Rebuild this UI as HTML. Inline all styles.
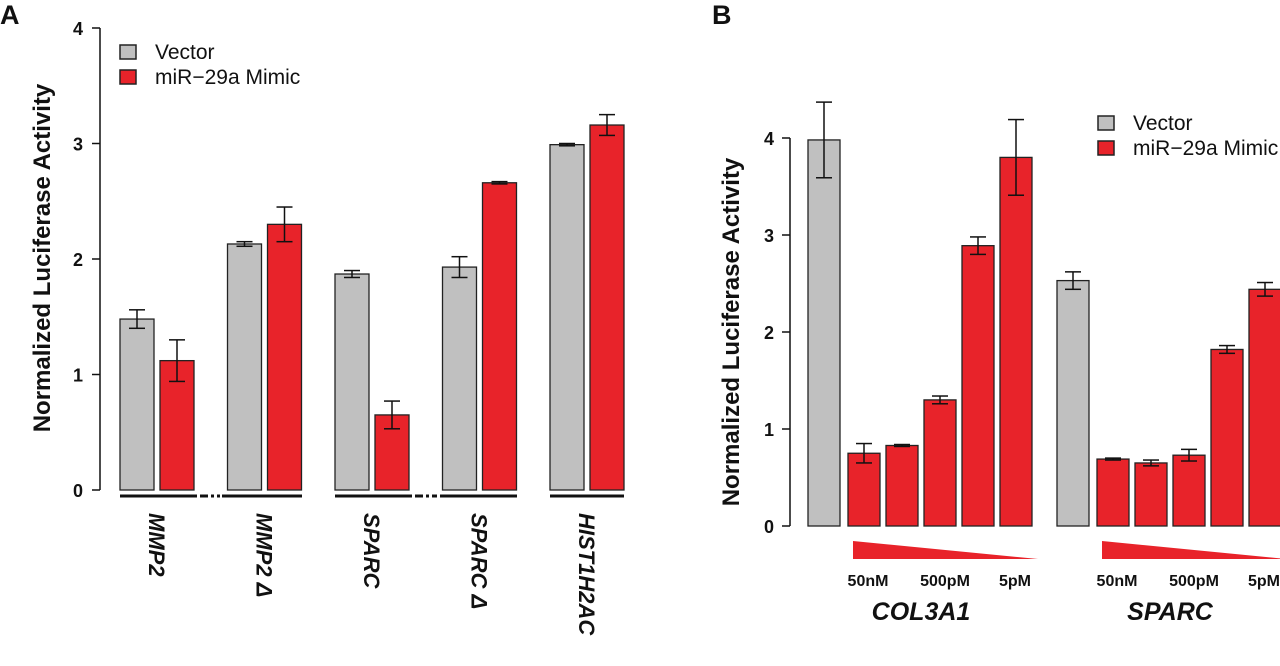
<!DOCTYPE html>
<html><head><meta charset="utf-8"><style>
body{margin:0;background:#fff;}
svg text{font-family:"Liberation Sans",Arial,sans-serif;font-weight:bold;fill:#111;}
</style></head><body>
<svg id="fig" width="1280" height="661" viewBox="0 0 1280 661" xmlns="http://www.w3.org/2000/svg"></svg>
<script>
// Panel A data
const catsA = ["MMP2","MMP2 Δ","SPARC","SPARC Δ","HIST1H2AC"];
const vecA = [1.48,2.13,1.87,1.93,2.99];
const vecErrA = [0.08,0.02,0.03,0.09,0.01];
const mimA = [1.12,2.30,0.65,2.66,3.16];
const mimErrA = [0.18,0.15,0.12,0.01,0.09];
const ticksA = [0,1,2,3,4];
// Panel B data
const groupsB = ["COL3A1","SPARC"];
const vecB = [3.98,2.53];
const vecErrB = [0.39,0.09];
const mimB1 = [0.75,0.83,1.30,2.89,3.80];
const mimErrB1 = [0.10,0.01,0.04,0.09,0.39];
const mimB2 = [0.69,0.65,0.73,1.82,2.44];
const mimErrB2 = [0.01,0.03,0.06,0.04,0.07];
const doseLabels = ["50nM","500pM","5pM"];
const ticksB = [0,1,2,3,4];

const NS="http://www.w3.org/2000/svg";
const svg=document.getElementById('fig');
function mk(tag,attrs,parent){const e=document.createElementNS(NS,tag);for(const k in attrs)e.setAttribute(k,attrs[k]);(parent||svg).appendChild(e);return e;}
const GRAY="#c0c0c0",RED="#e8232a";

// ---- Panel A ----
const yA=v=>490-v*115.5;
let t=mk('text',{x:0,y:24,'font-size':27});t.textContent="A";


let ax=mk('line',{x1:100,y1:yA(0),x2:100,y2:yA(4),stroke:'#111','stroke-width':1.5});


ticksA.forEach(v=>{
  mk('line',{x1:92,y1:yA(v),x2:100,y2:yA(v),stroke:'#111','stroke-width':1.5});
  const tt=mk('text',{x:83,y:yA(v)+7,'font-size':18,'text-anchor':'end'});tt.textContent=v;
  
  
});
t=mk('text',{x:0,y:0,'font-size':24,'text-anchor':'middle',transform:'translate(50,258) rotate(-90)'});t.textContent="Normalized Luciferase Activity";


function bar(x,w,v,err,fill,ys,name){
  const r=mk('rect',{x:x,y:ys(v),width:w,height:ys(0)-ys(v),fill:fill,stroke:'#222','stroke-width':1.3});
  
  
  const cx=x+w/2;
  const g=mk('g',{stroke:'#111','stroke-width':1.5});
  
  
  mk('line',{x1:cx,y1:ys(v-err),x2:cx,y2:ys(v+err)},g);
  mk('line',{x1:cx-8,y1:ys(v-err),x2:cx+8,y2:ys(v-err)},g);
  mk('line',{x1:cx-8,y1:ys(v+err),x2:cx+8,y2:ys(v+err)},g);
}
catsA.forEach((c,i)=>{
  const x0=120+i*107.5;
  bar(x0,34,vecA[i],vecErrA[i],GRAY,yA,'bar-vector-'+i);
  bar(x0+40,34,mimA[i],mimErrA[i],RED,yA,'bar-mimic-'+i);
  const l=mk('text',{x:0,y:0,'font-size':22,'font-style':'italic',transform:`translate(${x0+29},513) rotate(90)`});l.textContent=c;
  
  
});
[[120,197],[222,302],[335,412],[440,517],[550,624]].forEach(s=>{
  const l=mk('line',{x1:s[0],y1:496,x2:s[1],y2:496,stroke:'#111','stroke-width':3});
  
  
});
[[200,220],[415,437]].forEach(s=>{
  const l=mk('line',{x1:s[0],y1:496,x2:s[1],y2:496,stroke:'#111','stroke-width':3,'stroke-dasharray':'8 3 3 3'});
  
  
});
function legend(x,y,name){
  const g=mk('g',{});
  
  
  mk('rect',{x:x,y:y,width:16,height:14,fill:GRAY,stroke:'#222','stroke-width':1.5},g);
  mk('rect',{x:x,y:y+25,width:16,height:14,fill:RED,stroke:'#222','stroke-width':1.5},g);
  let a=mk('text',{x:x+35,y:y+14,'font-size':21},g);a.textContent="Vector";a.style.fontWeight='normal';
  a=mk('text',{x:x+35,y:y+39,'font-size':21},g);a.textContent="miR−29a Mimic";a.style.fontWeight='normal';
}
legend(120,45,'panel-a-legend');

// ---- Panel B ----
const yB=v=>526-v*97;
t=mk('text',{x:712,y:24,'font-size':27});t.textContent="B";


ax=mk('line',{x1:790,y1:yB(0),x2:790,y2:yB(4),stroke:'#111','stroke-width':1.5});


ticksB.forEach(v=>{
  mk('line',{x1:782,y1:yB(v),x2:790,y2:yB(v),stroke:'#111','stroke-width':1.5});
  const tt=mk('text',{x:774,y:yB(v)+7,'font-size':18,'text-anchor':'end'});tt.textContent=v;
  
  
});
t=mk('text',{x:0,y:0,'font-size':24,'text-anchor':'middle',transform:'translate(739,332) rotate(-90)'});t.textContent="Normalized Luciferase Activity";


const mimB=[mimB1,mimB2], mimErrB=[mimErrB1,mimErrB2];
groupsB.forEach((g,gi)=>{
  const x0=808+gi*249;
  bar(x0,32,vecB[gi],vecErrB[gi],GRAY,yB,'bar-b-vector-'+gi);
  mimB[gi].forEach((v,j)=>bar(x0+40+j*38,32,v,mimErrB[gi][j],RED,yB,'bar-b-mimic-'+gi+'-'+j));
  const tri=mk('polygon',{points:`${x0+45},541 ${x0+230},559 ${x0+45},559`,fill:RED});
  
  
  [60,137,207].forEach((dx,k)=>{
    const l=mk('text',{x:x0+dx,y:586,'font-size':16,'text-anchor':'middle'});l.textContent=doseLabels[k];
    
    
  });
  const gl=mk('text',{x:x0+113,y:620,'font-size':25,'font-style':'italic','text-anchor':'middle'});gl.textContent=g;
  
  
});
legend(1098,116,'panel-b-legend');
</script>
</body></html>
